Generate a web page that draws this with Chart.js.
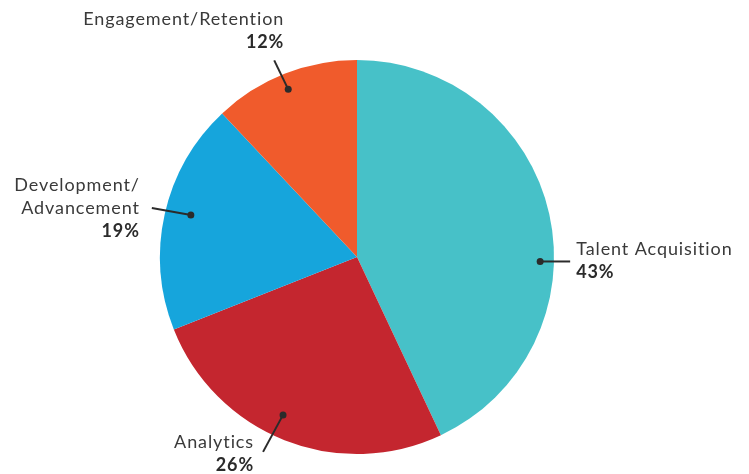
<!DOCTYPE html>
<html lang="en">
<head>
    <title>Focus Areas</title>
    <script src="https://cdn.jsdelivr.net/npm/chart.js"></script>
    <style>
        html, body { margin: 0; padding: 0; background: #fff; }
        .chart-container { width: 749px; height: 474px; }
    </style>
</head>
<body>
    <div class="chart-container">
        <canvas id="pieChart"></canvas>
    </div>

    <script>
        // data
        const categories = ['Talent Acquisition', 'Analytics', 'Development/Advancement', 'Engagement/Retention'];
        const shares = [43, 26, 19, 12];
        const labelLines = [['Talent Acquisition'], ['Analytics'], ['Development/', 'Advancement'], ['Engagement/Retention']];
        const colors = ['#47C1C8', '#C4262F', '#16A5DC', '#F05B2C'];

        // where each callout sits: dot angle shift (deg), dot radius fraction, line end offset, text side
        const callouts = [
            { shift: 14, frac: 0.93, end: [30, 0], align: 'left', text: [36, -12] },
            { shift: 3.5, frac: 0.885, end: [-20, 37], align: 'right', text: [-29, 27] },
            { shift: 1.6, frac: 0.87, end: [-39, -7], align: 'right', text: [-51, -30] },
            { shift: -0.7, frac: 0.92, end: [-14, -29], align: 'right', text: [-4, -70] }
        ];

        const calloutPlugin = {
            id: 'callouts',
            afterDatasetsDraw(chart) {
                const ctx = chart.ctx;
                const arcs = chart.getDatasetMeta(0).data;
                ctx.save();
                arcs.forEach((arc, i) => {
                    const c = callouts[i];
                    const mid = (arc.startAngle + arc.endAngle) / 2 + c.shift * Math.PI / 180;
                    const x = arc.x + Math.cos(mid) * arc.outerRadius * c.frac;
                    const y = arc.y + Math.sin(mid) * arc.outerRadius * c.frac;

                    // leader line + dot
                    ctx.strokeStyle = '#2b2b2b';
                    ctx.lineWidth = 2;
                    ctx.beginPath();
                    ctx.moveTo(x, y);
                    ctx.lineTo(x + c.end[0], y + c.end[1]);
                    ctx.stroke();
                    ctx.fillStyle = '#2b2b2b';
                    ctx.beginPath();
                    ctx.arc(x, y, 3.5, 0, Math.PI * 2);
                    ctx.fill();

                    // text
                    ctx.textAlign = c.align;
                    ctx.textBaseline = 'middle';
                    ctx.letterSpacing = '0.9px';
                    let tx = x + c.text[0];
                    let ty = y + c.text[1];
                    ctx.fillStyle = '#3a3a3a';
                    ctx.font = '18px Lato, sans-serif';
                    labelLines[i].forEach(line => {
                        ctx.fillText(line, tx, ty);
                        ty += 23;
                    });
                    ctx.fillStyle = '#2b2b2b';
                    ctx.font = 'bold 18px Lato, sans-serif';
                    ctx.fillText(shares[i] + '%', tx, ty);
                });
                ctx.restore();
            }
        };

        new Chart(document.getElementById('pieChart'), {
            type: 'pie',
            data: {
                labels: categories,
                datasets: [{
                    data: shares,
                    backgroundColor: colors,
                    borderWidth: 0
                }]
            },
            options: {
                responsive: true,
                maintainAspectRatio: false,
                animation: false,
                layout: {
                    padding: { top: 60, bottom: 20, left: 100, right: 135 }
                },
                plugins: {
                    legend: { display: false },
                    tooltip: { enabled: false }
                }
            },
            plugins: [calloutPlugin]
        });
    </script>
</body>
</html>
